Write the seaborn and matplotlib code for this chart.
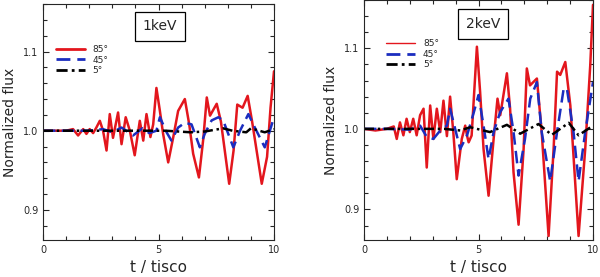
import numpy as np
import pandas as pd
import seaborn as sns
import matplotlib.pyplot as plt
from matplotlib.ticker import MultipleLocator

# ---- 1 keV panel ----
t_red_1 = [0, 0.5, 1.0, 1.3, 1.52, 1.74, 1.88, 2.02, 2.17, 2.31, 2.46, 2.6, 2.75, 2.89, 3.03,
           3.25, 3.4, 3.58, 3.76, 3.97, 4.19, 4.34, 4.48, 4.65, 4.77, 4.91, 5.06, 5.2, 5.42,
           5.64, 5.85, 6.14, 6.33, 6.5, 6.75, 6.94, 7.09, 7.23, 7.52, 7.7, 8.06, 8.25, 8.41,
           8.64, 8.86, 9.05, 9.47, 9.7, 9.85, 10.0]
f_red_1 = [1.0, 1.0, 1.0, 1.002, 0.994, 1.002, 0.996, 1.002, 0.997, 1.004, 1.0125, 1.0, 0.975,
           1.021, 0.991, 1.023, 0.983, 1.017, 1.0, 0.969, 1.0125, 0.9875, 1.021, 0.992, 1.008,
           1.054, 1.025, 0.996, 0.96, 0.992, 1.025, 1.04, 1.008, 0.971, 0.941, 0.99, 1.042,
           1.019, 1.034, 1.012, 0.933, 0.975, 1.033, 1.029, 1.044, 1.012, 0.933, 0.967, 1.029,
           1.075]

t_blue_1 = [0, 1.0, 2.0, 2.6, 3.0, 3.4, 3.9, 4.3, 4.6, 4.91, 5.06, 5.35, 5.56, 5.85, 6.14,
            6.43, 6.79, 7.0, 7.3, 7.59, 7.8, 8.24, 8.53, 8.89, 9.17, 9.6, 10.0]
f_blue_1 = [1.0, 1.0, 1.0, 1.002, 0.998, 1.004, 0.994, 1.003, 0.997, 1.0, 1.017, 0.998,
            0.9875, 1.004, 1.01, 1.008, 0.979, 0.996, 1.013, 1.017, 1.013, 0.979, 1.0, 1.021,
            1.004, 0.979, 1.017]

t_black_1 = [0, 2.0, 4.0, 5.3, 6.4, 7.0, 7.8, 8.2, 8.8, 9.0, 9.6, 10.0]
f_black_1 = [1.0, 1.0, 1.0, 1.0, 0.998, 0.999, 1.003, 1.0, 0.998, 1.003, 0.998, 1.002]

# ---- 2 keV panel ----
t_red_2 = [0, 0.5, 1.0, 1.3, 1.43, 1.57, 1.72, 1.86, 2.0, 2.15, 2.3, 2.45, 2.6, 2.74, 2.89,
           3.03, 3.18, 3.33, 3.47, 3.62, 3.76, 3.9, 4.05, 4.27, 4.42, 4.5, 4.57, 4.7, 4.93,
           5.07, 5.22, 5.44, 5.66, 5.83, 5.95, 6.24, 6.38, 6.53, 6.75, 6.97, 7.11, 7.25, 7.55,
           7.76, 8.06, 8.28, 8.43, 8.57, 8.79, 9.01, 9.37, 9.66, 9.88, 10.0]
f_red_2 = [1.0, 0.998, 1.0, 1.003, 0.9875, 1.008, 0.992, 1.0125, 0.996, 1.0125, 0.992, 1.017,
           1.025, 0.952, 1.029, 0.9875, 1.025, 0.996, 1.035, 0.991, 1.04, 0.996, 0.9375,
           0.9875, 1.004, 0.9915, 0.9833, 0.9917, 1.102, 1.046, 0.975, 0.917, 0.9875, 1.0375,
           1.017, 1.069, 1.025, 0.946, 0.881, 0.975, 1.075, 1.054, 1.0625, 0.996, 0.867,
           0.975, 1.071, 1.067, 1.083, 1.029, 0.867, 0.975, 1.079, 1.154]

t_blue_2 = [0, 1.0, 2.0, 2.45, 2.74, 3.03, 3.33, 3.62, 3.76, 4.2, 4.5, 4.8, 5.0, 5.22, 5.44,
            5.66, 5.95, 6.31, 6.53, 6.75, 7.03, 7.26, 7.55, 7.76, 8.13, 8.43, 8.72, 8.86,
            9.15, 9.37, 9.66, 10.0]
f_blue_2 = [1.0, 1.0, 0.999, 1.004, 0.99, 0.9875, 0.998, 1.004, 1.025, 0.975, 0.992, 1.021,
            1.042, 1.004, 0.9625, 0.996, 1.021, 1.0375, 0.996, 0.942, 0.9875, 1.0375, 1.058,
            0.996, 0.935, 0.996, 1.05, 1.05, 0.996, 0.935, 0.996, 1.058]

t_black_2 = [0, 2.0, 3.5, 4.2, 4.64, 5.5, 6.24, 6.82, 7.62, 8.2, 8.94, 9.37, 10.0]
f_black_2 = [1.0, 1.0, 1.0, 0.998, 1.002, 0.996, 1.005, 0.994, 1.006, 0.9925, 1.0075, 0.992,
             1.004]

labels = ['85°', '45°', '5°']
panel_titles = ['1keV', '2keV']

sns.set_style('ticks')
plt.rcParams['font.family'] = ['DejaVu Sans']

fig = plt.figure(figsize=(6.0, 2.77), dpi=100)
ax1 = fig.add_axes([43 / 600, 37 / 277, 231 / 600, 236 / 277])
ax2 = fig.add_axes([364 / 600, 37 / 277, 229 / 600, 240 / 277])

panels = [
    (ax1, [(t_red_1, f_red_1), (t_blue_1, f_blue_1), (t_black_1, f_black_1)], 1.8, (0.02, 0.86), (0.506, 0.905)),
    (ax2, [(t_red_2, f_red_2), (t_blue_2, f_blue_2), (t_black_2, f_black_2)], 1.8, (0.06, 0.87), (0.52, 0.9)),
]
colors = ['#e3161d', '#1b2dbf', '#000000']
styles = ['-', (0, (5, 2.5)), (0, (4, 1.5, 1, 1.5))]
legend_lw = [[2.0, 2.0, 2.0], [1.0, 2.0, 2.0]]

for i, (ax, series, lw, leg_pos, title_pos) in enumerate(panels):
    for (t, f), c, ls, lab in zip(series, colors, styles, labels):
        df = pd.DataFrame({'t': t, 'flux': f})
        sns.lineplot(data=df, x='t', y='flux', ax=ax, color=c, linestyle=ls, lw=lw,
                     label=lab, estimator=None, sort=False)
    ax.set_xlim(0, 10)
    ax.set_ylim(0.862, 1.16)
    ax.xaxis.set_major_locator(MultipleLocator(5))
    ax.xaxis.set_minor_locator(MultipleLocator(1))
    ax.yaxis.set_major_locator(MultipleLocator(0.1))
    ax.yaxis.set_minor_locator(MultipleLocator(0.02))
    ax.set_yticks([0.9, 1.0, 1.1])
    ax.set_yticklabels(['0.9', '1.0', '1.1'])
    ax.tick_params(which='both', direction='in', top=True, right=True, labelsize=7)
    ax.tick_params(which='major', length=4, width=0.8)
    ax.tick_params(which='minor', length=3, width=0.8)
    for s in ax.spines.values():
        s.set_linewidth(0.8)
    ax.set_xlabel('t / tisco', fontsize=11)
    ax.set_ylabel('Normalized flux', fontsize=10)
    ax.text(title_pos[0], title_pos[1], panel_titles[i], transform=ax.transAxes,
            ha='center', va='center', fontsize=10,
            bbox=dict(boxstyle='square,pad=0.55', fc='white', ec='black', lw=0.9))
    leg = ax.legend(loc='upper left', bbox_to_anchor=leg_pos, frameon=False, fontsize=6.5,
                    handlelength=3.2, labelspacing=0.15, handletextpad=0.9)
    for h, w in zip(leg.get_lines(), legend_lw[i]):
        h.set_linewidth(w)

fig.savefig('out.png', dpi=100)
